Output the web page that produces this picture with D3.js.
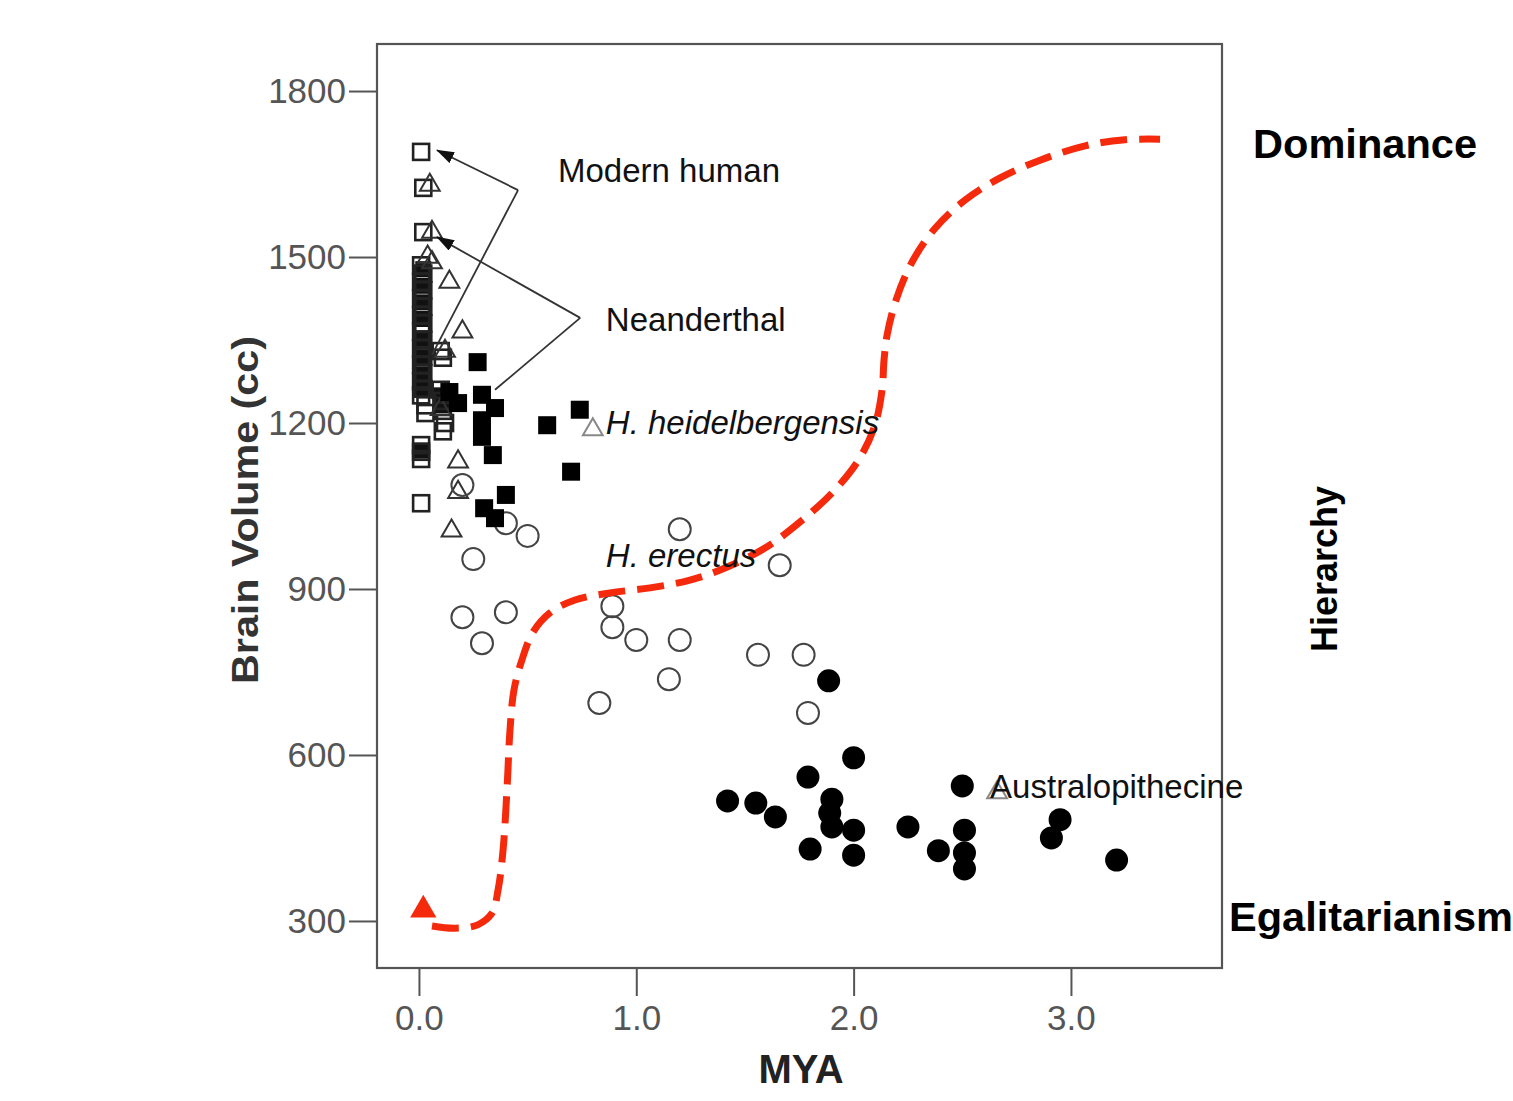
<!DOCTYPE html>
<html>
<head>
<meta charset="utf-8">
<script src="https://cdn.jsdelivr.net/npm/d3@7"></script>
<style>
  html, body { margin: 0; padding: 0; background: #fff; }
  svg { display: block; font-family: "Liberation Sans", Arial, Helvetica, sans-serif; }
</style>
</head>
<body>
<svg id="chart" width="1513" height="1101"></svg>
<script>
// ---------- DATA (MYA, brain volume cc) ----------
const xTickValues = [0, 1, 2, 3];
const yTickValues = [300, 600, 900, 1200, 1500, 1800];

const modernHuman = [
  [0.01,1690],[0.02,1625],[0.02,1545],
  [0.01,1485],[0.02,1470],[0.01,1455],[0.02,1440],[0.01,1425],[0.02,1410],[0.01,1395],
  [0.02,1380],[0.01,1365],[0.02,1350],[0.01,1335],[0.02,1320],[0.01,1305],[0.02,1290],
  [0.01,1275],[0.02,1262],[0.01,1250],[0.03,1232],[0.03,1218],
  [0.10,1330],[0.11,1318],[0.10,1260],[0.11,1240],[0.11,1222],[0.12,1200],[0.11,1185],
  [0.01,1160],[0.01,1148],[0.01,1135],[0.01,1055]
];

// dark (filled) squares inside the recent cluster
const recentFilled = [
  [0.02,1478],[0.02,1448],[0.02,1418],[0.02,1388],[0.02,1352],[0.02,1318],
  [0.02,1288],[0.02,1262],[0.10,1250],[0.11,1232],[0.01,1150]
];

const neanderthal = [
  [0.05,1630],[0.06,1545],[0.04,1500],[0.06,1490],[0.14,1455],[0.20,1365],[0.12,1330],
  [0.10,1225],[0.18,1130],[0.18,1075],[0.15,1005]
];

const otherTriangles = [[0.80,1188],[2.66,532]];

const heidelbergensis = [
  [0.27,1310],[0.14,1256],[0.18,1236],[0.29,1251],[0.35,1227],[0.29,1205],[0.29,1175],
  [0.34,1142],[0.59,1196],[0.74,1224],[0.70,1112],[0.40,1070],[0.30,1046],[0.35,1028]
];

const erectus = [
  [0.20,1088],[0.40,1019],[0.50,996],[0.25,954],[1.20,1008],[1.66,943],[0.20,849],
  [0.40,858],[0.29,802],[0.89,869],[0.89,831],[1.00,808],[1.20,808],[1.15,737],
  [0.83,694],[1.56,781],[1.77,781],[1.79,676]
];

const australopithecine = [
  [1.885,734],[2.00,595],[1.79,560],[1.42,517],[1.55,513],[1.64,488],[1.90,520],
  [1.89,495],[1.90,470],[2.00,464],[1.80,430],[2.00,419],[2.25,470],[2.50,544],
  [2.51,464],[2.39,427],[2.51,423],[2.51,394],[2.95,483],[2.91,450],[3.21,410]
];

// trend curve (schematic), Egalitarianism -> Hierarchy -> Dominance
const trendCurve = [
  [0.06,291],[0.166,287],[0.27,293],[0.336,314],[0.364,356],[0.387,428],[0.405,537],
  [0.419,645],[0.437,717],[0.474,772],[0.525,822],[0.603,857],[0.718,880],[0.879,893],
  [1.063,902],[1.247,916],[1.408,938],[1.592,974],[1.753,1021],[1.914,1079],[2.029,1137],
  [2.098,1196],[2.131,1260],[2.14,1314],[2.154,1359],[2.195,1422],[2.269,1491],[2.375,1552],
  [2.513,1603],[2.674,1643],[2.858,1675],[3.065,1701],[3.249,1712],[3.41,1713]
];
const trendStart = [0.02, 320];

const labels = [
  {text: "Modern human", x: 0.64, y: 1636, italic: false},
  {text: "Neanderthal", x: 0.86, y: 1366, italic: false},
  {text: "H. heidelbergensis", x: 0.86, y: 1180, italic: true},
  {text: "H. erectus", x: 0.86, y: 940, italic: true},
  {text: "Australopithecine", x: 2.628, y: 522, italic: false}
];

// annotation arrows: apex, head target, second end
const arrows = [
  {apex: [0.456,1621], head: [0.083,1693], tail: [0.06,1323]},
  {apex: [0.742,1390], head: [0.083,1536], tail: [0.35,1260]}
];

// ---------- CHART ----------
const svg = d3.select("#chart");
const L = 377, R = 1222, T = 44, B = 968;

const x = d3.scaleLinear().domain([-0.193, 3.695]).range([L, R]);
const y = d3.scaleLinear().domain([215, 1885]).range([B, T]);

// axes
const yAxis = svg.append("g").attr("transform", `translate(${L},0)`)
  .call(d3.axisLeft(y).tickValues(yTickValues).tickSize(28).tickPadding(3).tickFormat(d3.format("d")));
const xAxis = svg.append("g").attr("transform", `translate(0,${B})`)
  .call(d3.axisBottom(x).tickValues(xTickValues).tickSize(28).tickPadding(9).tickFormat(d3.format(".1f")));
[yAxis, xAxis].forEach(g => {
  g.select(".domain").remove();
  g.selectAll(".tick line").attr("stroke", "#555").attr("stroke-width", 2);
  g.selectAll(".tick text").attr("fill", "#555").style("font-size", "35px")
    .style("font-family", '"Liberation Sans", Arial, sans-serif');
});

// frame
svg.append("rect").attr("x", L).attr("y", T).attr("width", R - L).attr("height", B - T)
  .attr("fill", "none").attr("stroke", "#555").attr("stroke-width", 2.2);

const plot = svg.append("g");

// filled squares in the recent cluster
const sq = 16;
plot.selectAll("rect.rf").data(recentFilled).join("rect").attr("class", "rf")
  .attr("x", d => x(d[0]) - sq/2).attr("y", d => y(d[1]) - sq/2)
  .attr("width", sq).attr("height", sq).attr("fill", "#111");

// open squares (modern human)
plot.selectAll("rect.mh").data(modernHuman).join("rect").attr("class", "mh")
  .attr("x", d => x(d[0]) - sq/2).attr("y", d => y(d[1]) - sq/2)
  .attr("width", sq).attr("height", sq)
  .attr("fill", "none").attr("stroke", "#222").attr("stroke-width", 2.6);

// open triangles (Neanderthal)
const tri = d3.symbol().type(d3.symbolTriangle).size(170);
plot.selectAll("path.ne").data(neanderthal).join("path").attr("class", "ne")
  .attr("d", tri).attr("transform", d => `translate(${x(d[0])},${y(d[1])})`)
  .attr("fill", "none").attr("stroke", "#333").attr("stroke-width", 2);

plot.selectAll("path.ot").data(otherTriangles).join("path").attr("class", "ot")
  .attr("d", tri).attr("transform", d => `translate(${x(d[0])},${y(d[1])})`)
  .attr("fill", "none").attr("stroke", "#888").attr("stroke-width", 2);

// open circles (H. erectus)
plot.selectAll("circle.er").data(erectus).join("circle").attr("class", "er")
  .attr("cx", d => x(d[0])).attr("cy", d => y(d[1])).attr("r", 11)
  .attr("fill", "none").attr("stroke", "#444").attr("stroke-width", 2);

// filled squares (H. heidelbergensis)
const fs = 18;
plot.selectAll("rect.hh").data(heidelbergensis).join("rect").attr("class", "hh")
  .attr("x", d => x(d[0]) - fs/2).attr("y", d => y(d[1]) - fs/2)
  .attr("width", fs).attr("height", fs).attr("fill", "#000");

// filled circles (Australopithecine)
plot.selectAll("circle.au").data(australopithecine).join("circle").attr("class", "au")
  .attr("cx", d => x(d[0])).attr("cy", d => y(d[1])).attr("r", 11.5)
  .attr("fill", "#000");

// arrows
svg.append("defs").append("marker").attr("id", "ah")
  .attr("viewBox", "0 0 18 12").attr("refX", 17).attr("refY", 6)
  .attr("markerUnits", "userSpaceOnUse").attr("markerWidth", 18).attr("markerHeight", 12)
  .attr("orient", "auto")
  .append("path").attr("d", "M0,0 L18,6 L0,12 Z").attr("fill", "#111");

arrows.forEach(a => {
  plot.append("line")
    .attr("x1", x(a.apex[0])).attr("y1", y(a.apex[1]))
    .attr("x2", x(a.head[0])).attr("y2", y(a.head[1]))
    .attr("stroke", "#333").attr("stroke-width", 1.8).attr("marker-end", "url(#ah)");
  plot.append("line")
    .attr("x1", x(a.apex[0])).attr("y1", y(a.apex[1]))
    .attr("x2", x(a.tail[0])).attr("y2", y(a.tail[1]))
    .attr("stroke", "#333").attr("stroke-width", 1.8);
});

// red dashed trend
const line = d3.line().x(d => x(d[0])).y(d => y(d[1])).curve(d3.curveCatmullRom.alpha(0.5));
plot.append("path").datum(trendCurve).attr("d", line)
  .attr("fill", "none").attr("stroke", "#f52a0c").attr("stroke-width", 7)
  .attr("stroke-dasharray", "27,12");
plot.append("path")
  .attr("d", d3.symbol().type(d3.symbolTriangle).size(300))
  .attr("transform", `translate(${x(trendStart[0])},${y(trendStart[1])})`)
  .attr("fill", "#f52a0c");

// labels
plot.selectAll("text.lab").data(labels).join("text").attr("class", "lab")
  .attr("x", d => x(d.x)).attr("y", d => y(d.y))
  .style("font-size", "33px").style("font-style", d => d.italic ? "italic" : "normal")
  .attr("fill", "#111").text(d => d.text);

// axis titles
svg.append("text").attr("x", 801).attr("y", 1083).attr("text-anchor", "middle")
  .style("font-size", "40px").style("font-weight", "bold").attr("fill", "#222").text("MYA");
svg.append("text").attr("transform", "translate(258,510) rotate(-90)").attr("text-anchor", "middle")
  .style("font-size", "36px").style("font-weight", "bold").attr("fill", "#333")
  .attr("textLength", 348).attr("lengthAdjust", "spacingAndGlyphs").text("Brain Volume (cc)");

// right-side labels
svg.append("text").attr("x", 1253).attr("y", 158)
  .style("font-size", "40px").style("font-weight", "bold").attr("fill", "#000")
  .attr("textLength", 224).attr("lengthAdjust", "spacingAndGlyphs").text("Dominance");
svg.append("text").attr("x", 1229).attr("y", 931)
  .style("font-size", "40px").style("font-weight", "bold").attr("fill", "#000")
  .attr("textLength", 284).attr("lengthAdjust", "spacingAndGlyphs").text("Egalitarianism");
svg.append("text").attr("transform", "translate(1337,569) rotate(-90)").attr("text-anchor", "middle")
  .style("font-size", "36px").style("font-weight", "bold").attr("fill", "#000").text("Hierarchy");
</script>
</body>
</html>
